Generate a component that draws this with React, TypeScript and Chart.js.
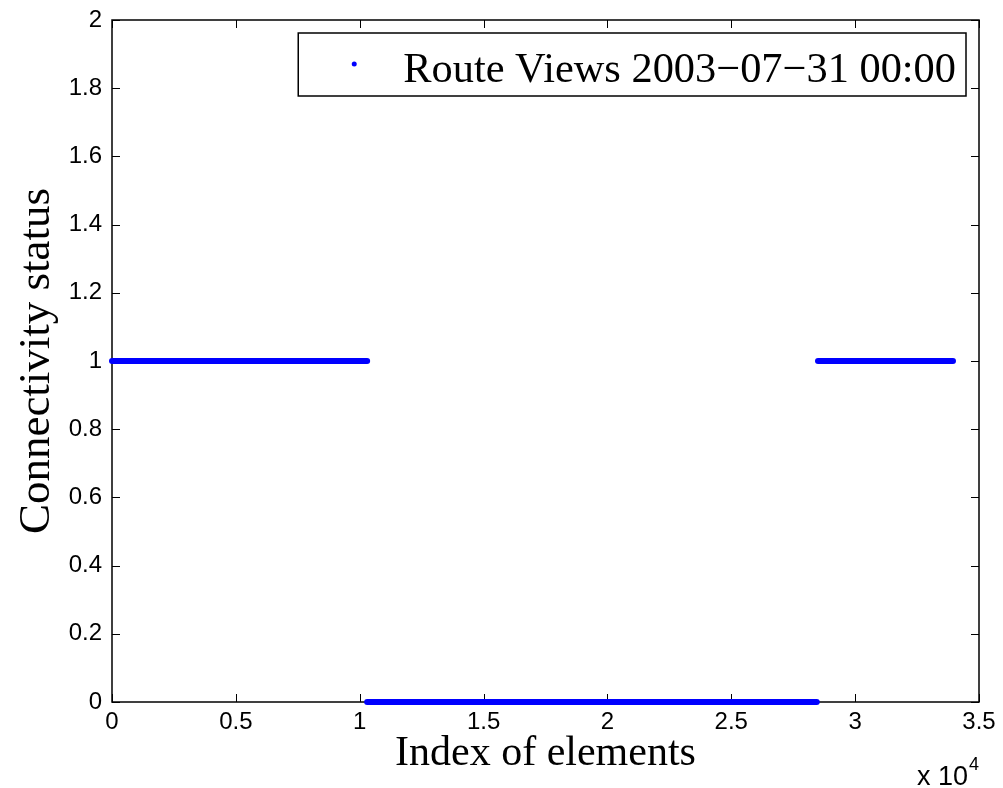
import React, { useEffect, useRef } from "react";
import { Chart, registerables } from "chart.js";

Chart.register(...registerables);

// ---- data ----
const seriesLabel = "Route Views 2003\u221207\u221231 00:00";
const segmentStart = [0, 10300, 28500];
const segmentEnd = [10300, 28450, 33950];
const segmentValue = [1, 0, 1];

const xTickValues = [0, 5000, 10000, 15000, 20000, 25000, 30000, 35000];
const xTickLabels = ["0", "0.5", "1", "1.5", "2", "2.5", "3", "3.5"];
const yTickValues = [0, 0.2, 0.4, 0.6, 0.8, 1, 1.2, 1.4, 1.6, 1.8, 2];
const yTickLabels = ["0", "0.2", "0.4", "0.6", "0.8", "1", "1.2", "1.4", "1.6", "1.8", "2"];

const xTitle = "Index of elements";
const yTitle = "Connectivity status";
const xExponentBase = "x 10";
const xExponent = "4";

const BLUE = "#0000ff";
const SERIF = "'Liberation Serif', 'Times New Roman', serif";
const SANS = "'Liberation Sans', Arial, sans-serif";

const framePlugin = {
  id: "frame",
  beforeDatasetsDraw(chart: any) {
    const { ctx, chartArea: a, scales } = chart;
    ctx.save();
    ctx.strokeStyle = "#000";
    ctx.lineWidth = 1;
    const tl = 8;
    ctx.beginPath();
    scales.x.ticks.forEach((t: any) => {
      const px = Math.round(scales.x.getPixelForValue(t.value)) + 0.5;
      ctx.moveTo(px, a.bottom);
      ctx.lineTo(px, a.bottom - tl);
      ctx.moveTo(px, a.top);
      ctx.lineTo(px, a.top + tl);
    });
    scales.y.ticks.forEach((t: any) => {
      const py = Math.round(scales.y.getPixelForValue(t.value)) + 0.5;
      ctx.moveTo(a.left, py);
      ctx.lineTo(a.left + tl, py);
      ctx.moveTo(a.right, py);
      ctx.lineTo(a.right - tl, py);
    });
    ctx.stroke();
    ctx.lineWidth = 1.5;
    ctx.strokeRect(a.left, a.top, a.right - a.left, a.bottom - a.top);
    ctx.restore();
  },
  afterDraw(chart: any) {
    const { ctx, chartArea: a } = chart;
    ctx.save();
    // legend
    ctx.font = `42.4px ${SERIF}`;
    const label = chart.data.datasets[0].label as string;
    const tw = ctx.measureText(label).width;
    const boxRight = a.right - 13;
    const boxTop = a.top + 13;
    const boxH = 63;
    const boxW = 105 + tw + 10;
    const boxLeft = boxRight - boxW;
    ctx.fillStyle = "#fff";
    ctx.fillRect(boxLeft, boxTop, boxW, boxH);
    ctx.strokeStyle = "#000";
    ctx.lineWidth = 1.5;
    ctx.strokeRect(boxLeft, boxTop, boxW, boxH);
    ctx.fillStyle = BLUE;
    ctx.beginPath();
    ctx.arc(boxLeft + 56, boxTop + 31, 2.5, 0, Math.PI * 2);
    ctx.fill();
    ctx.fillStyle = "#000";
    ctx.textBaseline = "alphabetic";
    ctx.textAlign = "left";
    ctx.fillText(label, boxLeft + 105, boxTop + 49);
    // exponent
    ctx.font = `27px ${SANS}`;
    ctx.fillText(xExponentBase, 917, 785);
    const bw = ctx.measureText(xExponentBase).width;
    ctx.font = `18px ${SANS}`;
    ctx.fillText(xExponent, 917 + bw + 1, 770);
    ctx.restore();
  },
};

export default function App() {
  const ref = useRef<HTMLCanvasElement | null>(null);
  useEffect(() => {
    if (!ref.current) return;
    const datasets = segmentStart.map((s, i) => ({
      label: seriesLabel,
      data: [
        { x: s, y: segmentValue[i] },
        { x: segmentEnd[i], y: segmentValue[i] },
      ],
      borderColor: BLUE,
      backgroundColor: BLUE,
      borderWidth: 6,
      borderCapStyle: "round" as const,
      pointRadius: 0,
      clip: false as any,
    }));
    const chart = new Chart(ref.current, {
      type: "line",
      data: { datasets },
      plugins: [framePlugin],
      options: {
        animation: false,
        responsive: false,
        devicePixelRatio: 1,
        layout: { padding: { top: 20, right: 24, left: 0, bottom: 0 } },
        plugins: { legend: { display: false }, tooltip: { enabled: false } },
        scales: {
          x: {
            type: "linear",
            min: 0,
            max: 35000,
            grid: { display: false, drawTicks: false },
            border: { display: false },
            afterBuildTicks: (s: any) => {
              s.ticks = xTickValues.map((v) => ({ value: v }));
            },
            afterFit: (s: any) => {
              s.height = 86;
              s.paddingLeft = 0;
              s.paddingRight = 0;
            },
            ticks: {
              padding: 6,
              maxRotation: 0,
              autoSkip: false,
              color: "#000",
              font: { family: SANS, size: 24 },
              callback: (_v: any, i: number) => xTickLabels[i],
            },
            title: {
              display: true,
              text: xTitle,
              color: "#000",
              font: { family: SERIF, size: 42 },
              padding: { top: 0, bottom: 9 },
            },
          },
          y: {
            type: "linear",
            min: 0,
            max: 2,
            grid: { display: false, drawTicks: false },
            border: { display: false },
            afterBuildTicks: (s: any) => {
              s.ticks = yTickValues.map((v) => ({ value: v }));
            },
            afterFit: (s: any) => {
              s.width = 112;
              s.paddingTop = 0;
              s.paddingBottom = 0;
            },
            ticks: {
              padding: 10,
              autoSkip: false,
              color: "#000",
              font: { family: SANS, size: 24 },
              callback: (_v: any, i: number) => yTickLabels[i],
            },
            title: {
              display: true,
              text: yTitle,
              color: "#000",
              font: { family: SERIF, size: 45 },
              padding: { top: 10, bottom: 0 },
            },
          },
        },
      },
    });
    return () => chart.destroy();
  }, []);
  return (
    <div style={{ position: "absolute", left: 0, top: 0, width: 1003, height: 788, background: "#fff" }}>
      <canvas ref={ref} width={1003} height={788} style={{ display: "block" }} />
    </div>
  );
}
